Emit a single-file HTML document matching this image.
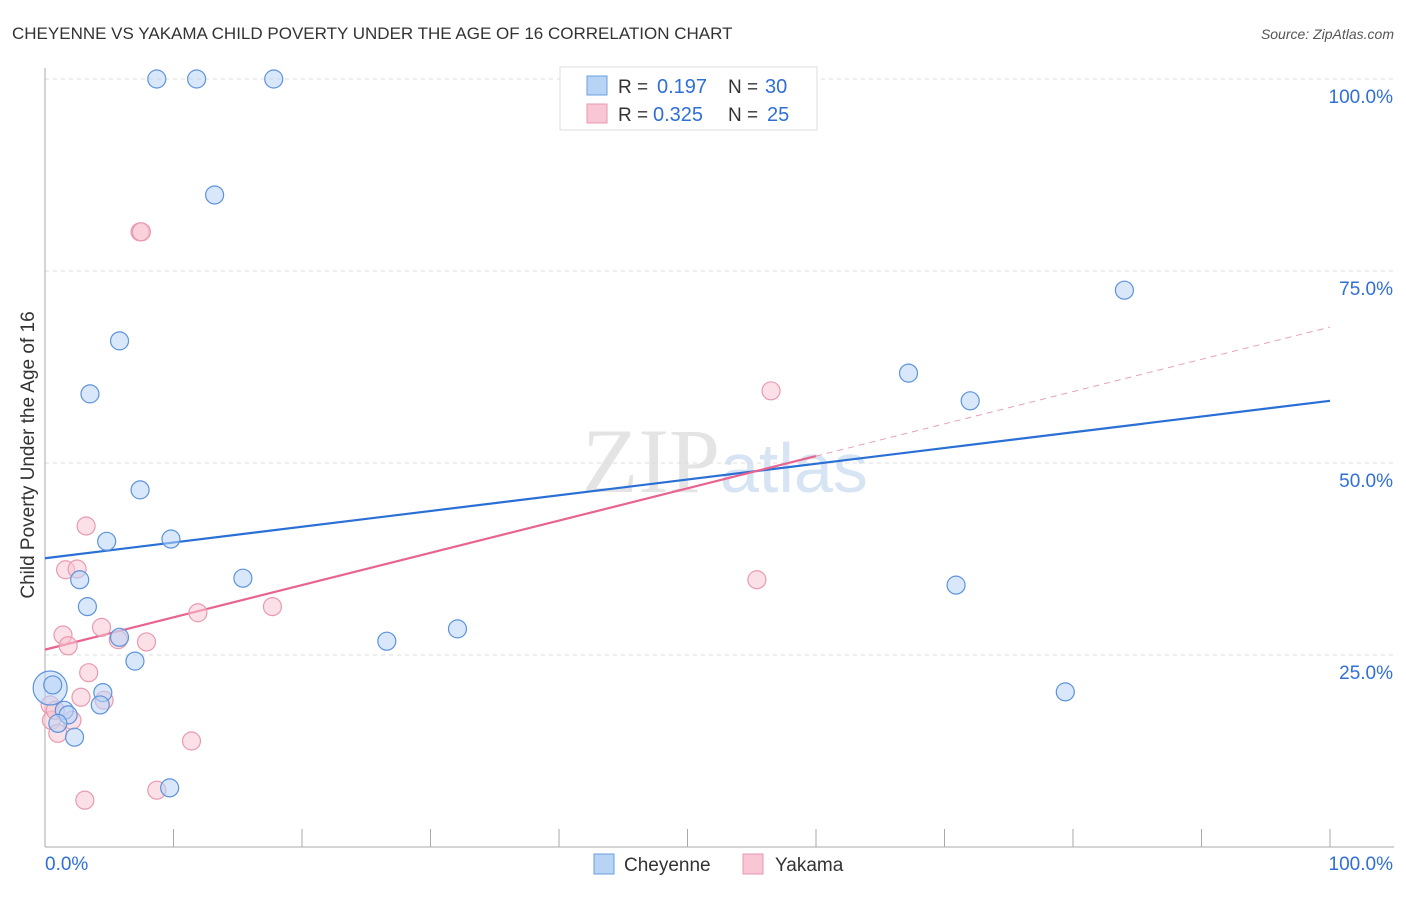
<!DOCTYPE html>
<html><head><meta charset="utf-8"><style>
body{margin:0;background:#fff;font-family:"Liberation Sans",sans-serif}
</style></head><body>
<svg id="chart" width="1406" height="892" xmlns="http://www.w3.org/2000/svg">
<text x="12" y="39" font-size="17" fill="#333">CHEYENNE VS YAKAMA CHILD POVERTY UNDER THE AGE OF 16 CORRELATION CHART</text>
<text x="1394" y="39" font-size="14" fill="#555" font-style="italic" text-anchor="end">Source: ZipAtlas.com</text>
<text x="720" y="492" font-size="92" fill="#e4e4e4" font-family="Liberation Serif,serif" text-anchor="end">ZIP</text>
<text x="720" y="492" font-size="70" fill="#d6e4f3">atlas</text>
<g id="grid"></g>
<g id="axes"></g>
<g id="lines"></g>
<g id="points"></g>
<text transform="translate(34,455) rotate(-90)" font-size="19" fill="#333" text-anchor="middle">Child Poverty Under the Age of 16</text>
<g>
<rect x="560" y="67" width="257" height="63" fill="#fff" stroke="#ddd"/>
<rect x="587" y="76" width="20" height="19" fill="#b8d4f5" stroke="#6a9fe0"/>
<text x="618" y="93" font-size="19" fill="#333">R =</text>
<text x="657" y="93" font-size="20" fill="#2f6fd6">0.197</text>
<text x="728" y="93" font-size="19" fill="#333">N =</text>
<text x="765" y="93" font-size="20" fill="#2f6fd6">30</text>
<rect x="587" y="104" width="20" height="19" fill="#f8c6d4" stroke="#e89ab0"/>
<text x="618" y="121" font-size="19" fill="#333">R =</text>
<text x="653" y="121" font-size="20" fill="#2f6fd6">0.325</text>
<text x="728" y="121" font-size="19" fill="#333">N =</text>
<text x="767" y="121" font-size="20" fill="#2f6fd6">25</text>
</g>
<g>
<rect x="594" y="854" width="20" height="20" fill="#b8d4f5" stroke="#6a9fe0"/>
<text x="624" y="871" font-size="19" fill="#333">Cheyenne</text>
<rect x="743" y="854" width="20" height="20" fill="#f8c6d4" stroke="#e89ab0"/>
<text x="775" y="871" font-size="19" fill="#333">Yakama</text>
</g>
</svg>
<script>
const cheyenneX=[8.7,11.8,17.8,13.2,5.8,3.5,7.4,4.8,9.8,2.7,15.4,3.3,5.8,26.6,32.1,7.0,0.4,0.6,4.5,4.3,1.5,1.8,1.0,2.3,9.7,67.2,72.0,84.0,70.9,79.4];
const cheyenneY=[100,100,100,84.9,65.9,59.0,46.5,39.8,40.1,34.8,35.0,31.3,27.3,26.8,28.4,24.2,20.7,21.1,20.1,18.5,17.8,17.2,16.1,14.3,7.7,61.7,58.1,72.5,34.1,20.2];
const yakamaX=[7.4,7.5,3.2,1.6,2.5,1.4,1.8,4.4,11.9,5.7,7.9,17.7,3.4,2.8,4.6,0.4,0.5,2.1,1.0,11.4,8.7,3.1,56.5,55.4,0.8];
const yakamaY=[80.1,80.1,41.8,36.1,36.2,27.6,26.2,28.6,30.5,27.0,26.7,31.3,22.7,19.5,19.1,18.5,16.5,16.5,14.8,13.8,7.4,6.1,59.4,34.8,17.8];
const cheyenneTrend=[37.6,58.1];
const yakamaTrend=[25.7,50.9,67.7];
const yTicks=[25,50,75,100];
const NS="http://www.w3.org/2000/svg";
const sx=v=>45+v*12.85, sy=v=>847-v*7.68;
function mk(tag,attrs,parent){const e=document.createElementNS(NS,tag);for(const k in attrs)e.setAttribute(k,attrs[k]);document.getElementById(parent).appendChild(e);return e;}
yTicks.forEach(t=>{
 const l=mk('line',{x1:45,x2:1394,y1:sy(t),y2:sy(t),stroke:'#ddd','stroke-dasharray':'4,4'},'grid');
 
 
 const tx=mk('text',{x:1393,y:sy(t)+24,'font-size':19,fill:'#2f6fd6','text-anchor':'end'},'grid');
 tx.textContent=t.toFixed(1)+'%';
 
 
});
mk('line',{x1:45,x2:45,y1:68,y2:847,stroke:'#aaa'},'axes');
mk('line',{x1:45,x2:1394,y1:847,y2:847,stroke:'#aaa'},'axes');
for(let i=0;i<=10;i++){mk('line',{x1:sx(i*10),x2:sx(i*10),y1:829,y2:847,stroke:'#aaa'},'axes');}
let a=mk('text',{x:45,y:870,'font-size':19,fill:'#2f6fd6'},'axes');a.textContent='0.0%';


a=mk('text',{x:1393,y:870,'font-size':19,fill:'#2f6fd6','text-anchor':'end'},'axes');a.textContent='100.0%';


function dots(xs,ys,fill,stroke,name){xs.forEach((x,i)=>{
 const r=(name==='cheyenne'&&i===16)?17:9;
 const c=mk('circle',{cx:sx(x),cy:sy(ys[i]),r:r,fill:fill,'fill-opacity':0.55,stroke:stroke,'stroke-width':1.2},'points');
 
 
});}
dots(yakamaX,yakamaY,'#f8c6d4','#e89ab0','yakama');
dots(cheyenneX,cheyenneY,'#b8d4f5','#5d93db','cheyenne');
let ln=mk('line',{x1:sx(0),y1:sy(cheyenneTrend[0]),x2:sx(100),y2:sy(cheyenneTrend[1]),stroke:'#2a6fd6','stroke-width':2.2},'lines');


ln=mk('line',{x1:sx(0),y1:sy(yakamaTrend[0]),x2:sx(60),y2:sy(yakamaTrend[1]),stroke:'#e8648f','stroke-width':2.2},'lines');


ln=mk('line',{x1:sx(60),y1:sy(yakamaTrend[1]),x2:sx(100),y2:sy(yakamaTrend[2]),stroke:'#e8a0b8','stroke-width':1,'stroke-dasharray':'6,5'},'lines');


</script>
</body></html>
